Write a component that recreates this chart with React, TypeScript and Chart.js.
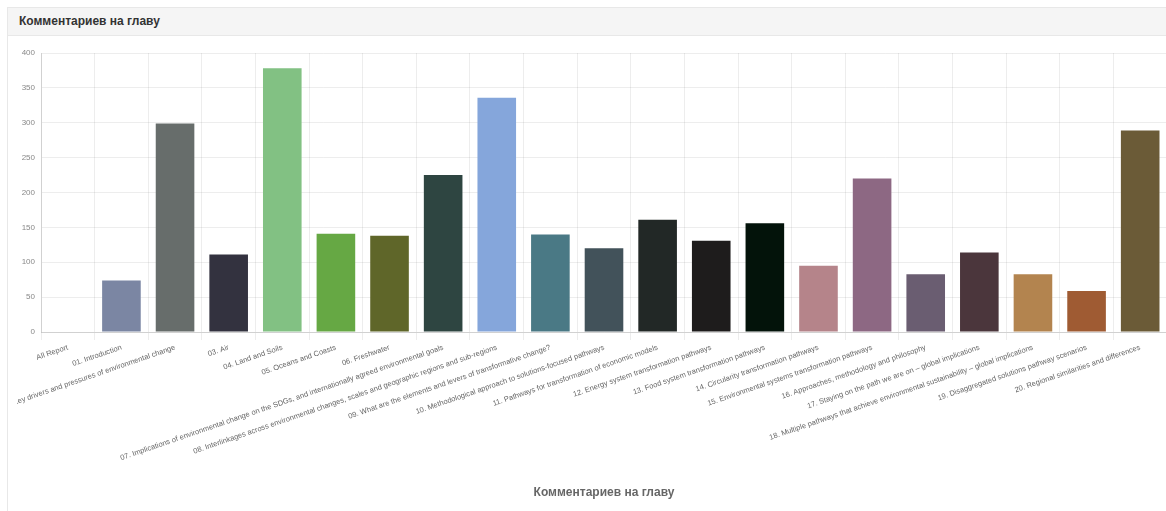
import React, { useEffect, useRef } from "react";
import { Chart, registerables } from "chart.js";

Chart.register(...registerables);

const categories: string[] = [
  "All Report",
  "01. Introduction",
  "02. Key drivers and pressures of environmental change",
  "03. Air",
  "04. Land and Soils",
  "05. Oceans and Coasts",
  "06. Freshwater",
  "07. Implications of environmental change on the SDGs, and internationally agreed environmental goals",
  "08. Interlinkages across environmental changes, scales and geographic regions and sub-regions",
  "09. What are the elements and levers of transformative change?",
  "10. Methodological approach to solutions-focused pathways",
  "11. Pathways for transformation of economic models",
  "12. Energy system transformation pathways",
  "13. Food system transformation pathways",
  "14. Circularity transformation pathways",
  "15. Environmental systems transformation pathways",
  "16. Approaches, methodology and philosophy",
  "17. Staying on the path we are on – global implications",
  "18. Multiple pathways that achieve environmental sustainability – global implications",
  "19. Disaggregated solutions pathway scenarios",
  "20. Regional similarities and differences",
];

const comments: number[] = [
  0, 74, 299, 111, 378, 141, 138, 225, 336, 140, 120, 161, 131, 156, 95, 220, 83, 114, 83, 59, 289,
];

const barColors: string[] = [
  "#9aa0b0",
  "#7b86a3",
  "#676d6b",
  "#33323f",
  "#82c183",
  "#66a844",
  "#5f6629",
  "#2e4541",
  "#85a6db",
  "#4a7985",
  "#42525a",
  "#222826",
  "#1e1c1c",
  "#03130a",
  "#b5848a",
  "#8d6883",
  "#6a5d71",
  "#4b363c",
  "#b3844f",
  "#9f5b33",
  "#6b5b37",
];

const chartTitle = "Комментариев на главу";
const yMax = 400;
const yStep = 50;

export default function App() {
  const canvasRef = useRef<HTMLCanvasElement | null>(null);

  useEffect(() => {
    if (!canvasRef.current) return;
    const chart = new Chart(canvasRef.current, {
      type: "bar",
      data: {
        labels: categories,
        datasets: [
          {
            label: chartTitle,
            data: comments,
            backgroundColor: barColors,
            borderWidth: 0,
          },
        ],
      },
      options: {
        animation: false,
        responsive: true,
        maintainAspectRatio: false,
        layout: { padding: { top: 16, right: 0, bottom: 5, left: 0 } },
        plugins: {
          legend: { display: false },
          tooltip: { enabled: false },
        },
        scales: {
          x: {
            grid: { color: "rgba(0,0,0,0.07)" },
            border: { color: "rgba(0,0,0,0.12)" },
            ticks: {
              autoSkip: false,
              minRotation: 19,
              maxRotation: 19,
              color: "#666",
              font: { size: 7.5, family: "'Liberation Sans', Arial, sans-serif" },
            },
            title: {
              display: true,
              text: chartTitle,
              color: "#666",
              font: { size: 12, weight: "bold", family: "'Liberation Sans', Arial, sans-serif" },
              padding: { top: 20, bottom: 4 },
            },
          },
          y: {
            min: 0,
            max: yMax,
            grid: { color: "rgba(0,0,0,0.07)", drawTicks: false },
            border: { color: "rgba(0,0,0,0.12)" },
            ticks: {
              stepSize: yStep,
              padding: 6,
              color: "#888",
              font: { size: 8, family: "'Liberation Sans', Arial, sans-serif" },
            },
            afterFit: (scale: any) => {
              scale.width = 24;
            },
          },
        },
      },
    });
    return () => chart.destroy();
  }, []);

  return (
    <div
      style={{
        position: "absolute",
        left: 7,
        top: 7,
        width: 1170,
        height: 510,
        border: "1px solid #e8e8e8",
        boxSizing: "border-box",
        background: "#fff",
        overflow: "hidden",
      }}
    >
      <div
        style={{
          height: 28,
          background: "#f5f5f5",
          borderBottom: "1px solid #e8e8e8",
          boxSizing: "border-box",
          paddingLeft: 11,
          lineHeight: "27px",
          fontFamily: "'Liberation Sans', Arial, sans-serif",
          fontWeight: "bold",
          fontSize: 12,
          color: "#333",
        }}
      >
        {chartTitle}
      </div>
      <div style={{ position: "absolute", left: 9, top: 29, width: 1150, height: 472 }}>
        <canvas ref={canvasRef} />
      </div>
    </div>
  );
}
